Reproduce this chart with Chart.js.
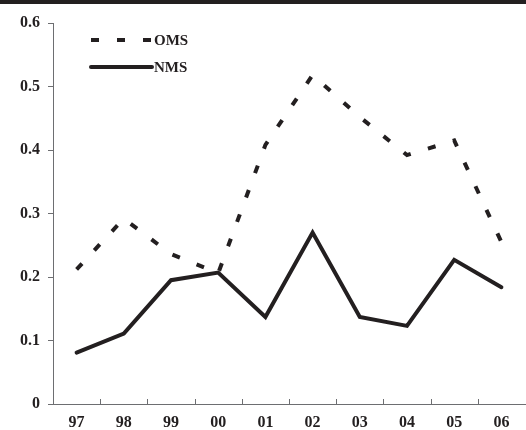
<!DOCTYPE html>
<html>
<head>
<meta charset="utf-8">
<script src="https://cdn.jsdelivr.net/npm/chart.js@4"></script>
<style>
    html, body { margin: 0; padding: 0; background: #fff; }
    #wrap { position: relative; width: 526px; height: 430px; }
    #chart { display: block; }
    #topbar { position: absolute; left: 0; top: 0; width: 526px; height: 4px; background: #231f20; }
</style>
</head>
<body>
<div id="wrap">
    <canvas id="chart" width="526" height="430"></canvas>
    <div id="topbar"></div>
</div>
<script>
const years = ['97', '98', '99', '00', '01', '02', '03', '04', '05', '06'];
const omsValues = [0.212, 0.292, 0.236, 0.206, 0.408, 0.518, 0.452, 0.392, 0.415, 0.255];
const nmsValues = [0.081, 0.111, 0.195, 0.207, 0.137, 0.270, 0.137, 0.123, 0.227, 0.184];
const seriesNames = ['OMS', 'NMS'];

const ink = '#231f20';
const axisGray = '#6d6e71';
const fontFamily = '"Liberation Serif", "Times New Roman", serif';

// линии легенды рисуем сами, чтобы стояли как на картинке
const legendPlugin = {
    id: 'customLegend',
    afterDraw(chart) {
        const ctx = chart.ctx;
        chart.data.datasets.forEach((ds, i) => {
            const y = 40 + i * 27;
            ctx.save();
            ctx.strokeStyle = ds.borderColor;
            ctx.lineWidth = ds.borderWidth;
            ctx.setLineDash(ds.borderDash || []);
            ctx.lineCap = ds.borderDash ? 'butt' : 'round';
            ctx.beginPath();
            ctx.moveTo(91, y);
            ctx.lineTo(152, y);
            ctx.stroke();
            ctx.setLineDash([]);
            ctx.fillStyle = ink;
            ctx.font = 'bold 15px ' + fontFamily;
            ctx.textBaseline = 'middle';
            ctx.fillText(ds.label, 154, y + 1);
            ctx.restore();
        });
    }
};

// короткие засечки на оси X, смотрят внутрь графика
const xTicksPlugin = {
    id: 'xInnerTicks',
    afterDatasetsDraw(chart) {
        const xs = chart.scales.x;
        const bottom = chart.chartArea.bottom;
        const ctx = chart.ctx;
        ctx.save();
        ctx.strokeStyle = axisGray;
        ctx.lineWidth = 1;
        ctx.beginPath();
        for (let i = 1; i < years.length; i++) {
            const x = Math.round((xs.getPixelForValue(i - 1) + xs.getPixelForValue(i)) / 2) + 0.5;
            ctx.moveTo(x, bottom);
            ctx.lineTo(x, bottom - 5);
        }
        ctx.stroke();
        ctx.restore();
    }
};

new Chart(document.getElementById('chart'), {
    type: 'line',
    data: {
        labels: years,
        datasets: [
            {
                label: seriesNames[0],
                data: omsValues,
                borderColor: ink,
                borderWidth: 4,
                borderDash: [8, 18],
                pointRadius: 0,
                tension: 0,
                fill: false
            },
            {
                label: seriesNames[1],
                data: nmsValues,
                borderColor: ink,
                borderWidth: 4,
                borderCapStyle: 'round',
                pointRadius: 0,
                tension: 0,
                fill: false
            }
        ]
    },
    options: {
        responsive: false,
        animation: false,
        layout: { padding: { top: 23, right: 1, left: 0, bottom: 0 } },
        plugins: {
            legend: { display: false },
            tooltip: { enabled: false }
        },
        scales: {
            x: {
                offset: true,
                grid: { display: false, drawTicks: false, tickLength: 0 },
                border: { display: true, color: axisGray, width: 1 },
                ticks: {
                    color: ink,
                    padding: 9,
                    font: { family: fontFamily, size: 16, weight: 'bold' },
                    maxRotation: 0
                },
                afterFit: (scale) => { scale.height = 26; }
            },
            y: {
                min: 0,
                max: 0.6,
                grid: {
                    drawOnChartArea: false,
                    drawTicks: true,
                    tickLength: 5,
                    color: axisGray
                },
                border: { display: true, color: axisGray, width: 1 },
                ticks: {
                    stepSize: 0.1,
                    color: ink,
                    padding: 8,
                    font: { family: fontFamily, size: 16, weight: 'bold' },
                    callback: (v) => v === 0 ? '0' : v.toFixed(1)
                },
                afterFit: (scale) => { scale.width = 53; }
            }
        }
    },
    plugins: [legendPlugin, xTicksPlugin]
});
</script>
</body>
</html>
